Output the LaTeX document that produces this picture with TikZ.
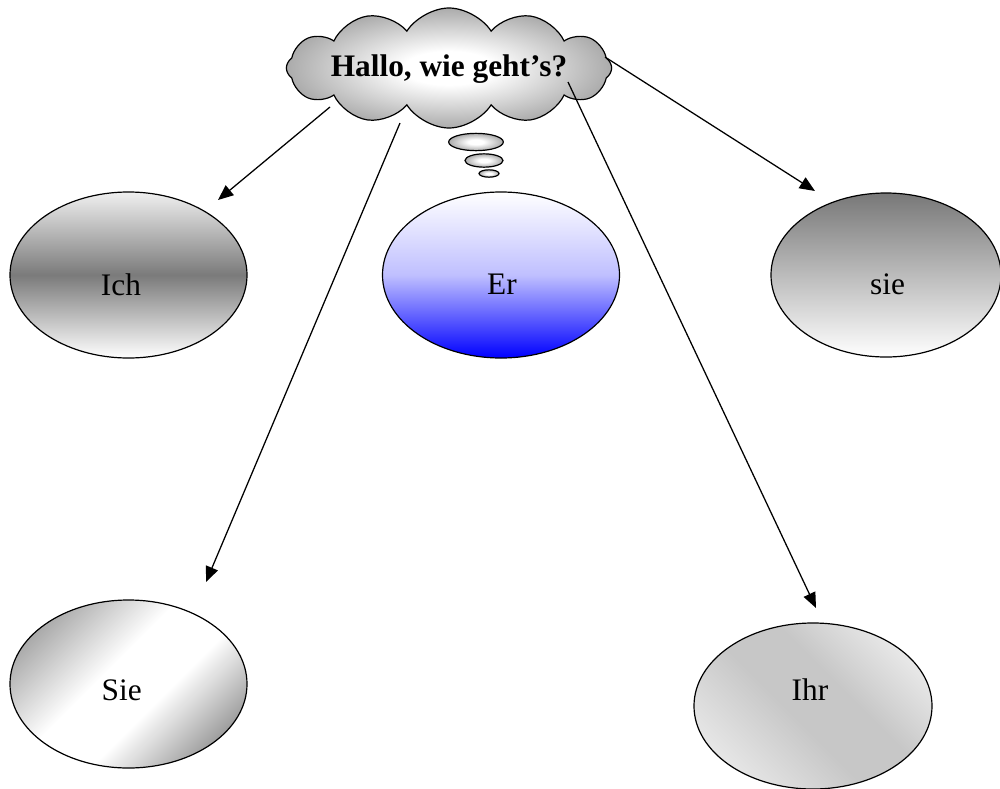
\documentclass[tikz,border=0pt]{standalone}
\usepackage{fontspec}
\setmainfont{Liberation Serif}
\usetikzlibrary{shapes.geometric,shapes.symbols,arrows.meta}
\pgfdeclareradialshading{cloudshade}{\pgfpoint{0bp}{0bp}}{color(0bp)=(white); color(7bp)=(white); color(25bp)=(black!33); color(50bp)=(black!33)}
\pgfdeclareverticalshading{sieshade}{100bp}{color(0bp)=(black!48); color(22bp)=(black!44); color(42bp)=(white); color(56bp)=(white); color(78bp)=(black!38); color(100bp)=(black!40)}
\pgfdeclareverticalshading{ihrshade}{100bp}{color(0bp)=(black!6); color(22bp)=(black!8); color(45bp)=(black!22); color(58bp)=(black!22); color(78bp)=(black!7); color(100bp)=(black!5)}
\begin{document}
\begin{tikzpicture}[x=0.75pt,y=-0.75pt,
  ell/.style={ellipse,draw=black,line width=0.9pt,inner sep=0pt,minimum width=177.75pt,minimum height=124.5pt},
  lbl/.style={font=\fontsize{23.5}{28}\selectfont,inner sep=0pt,anchor=base},
  arr/.style={line width=0.95pt,-{Triangle[length=11.5pt,width=9.5pt]}},
  bubble/.style={ellipse,draw=black,line width=0.9pt,inner sep=0pt,shading=cloudshade},
]
\useasboundingbox (0,0) rectangle (1000,789);

% cloud
\node[cloud,cloud puffs=12,cloud puff arc=115,aspect=2.7,draw=black,line width=0.9pt,
      shading=cloudshade,minimum width=244pt,minimum height=90pt] (cloud) at (449,68) {};
\node[font=\bfseries\fontsize{23.5}{28}\selectfont,inner sep=0pt,anchor=base] (hallo) at (449,76) {Hallo, wie geht’s?};

% thought bubbles
\node[bubble,minimum width=41pt,minimum height=13pt] (b1) at (476,142) {};
\node[bubble,minimum width=28.5pt,minimum height=10pt] (b2) at (484,160.5) {};
\node[bubble,minimum width=15pt,minimum height=5.5pt] (b3) at (489,173.5) {};

% ellipses
\node[ell,top color=black!6,bottom color=white,middle color=black!52] (ich) at (128.5,275) {};
\node[lbl] (ichT) at (121,295) {Ich};

\node[ell,top color=white,bottom color=blue,middle color=blue!25] (er) at (501,275) {};
\node[lbl] (erT) at (502,294) {Er};

\node[ell,minimum width=172.5pt,minimum height=123pt,top color=black!53,bottom color=white] (sie) at (886,275) {};
\node[lbl] (sieT) at (887.5,294) {sie};

\node[ell,minimum height=126pt,shading=sieshade,shading angle=45] (Sie) at (128.5,684) {};
\node[lbl] (SieT) at (121.7,700) {Sie};

\node[ell,minimum width=178.5pt,shading=ihrshade,shading angle=-45] (ihr) at (813,706) {};
\node[lbl] (ihrT) at (810,700) {Ihr};

% connectors
\coordinate (s1) at (330,107);
\coordinate (e1) at (218,200);
\coordinate (s2) at (400,123);
\coordinate (e2) at (206,582);
\coordinate (s3) at (568,82);
\coordinate (e3) at (816,608);
\coordinate (s4) at (605,57);
\coordinate (e4) at (815,191);
\draw[arr] (s1) -- (e1);
\draw[arr] (s2) -- (e2);
\draw[arr] (s3) -- (e3);
\draw[arr] (s4) -- (e4);
\end{tikzpicture}
\end{document}
